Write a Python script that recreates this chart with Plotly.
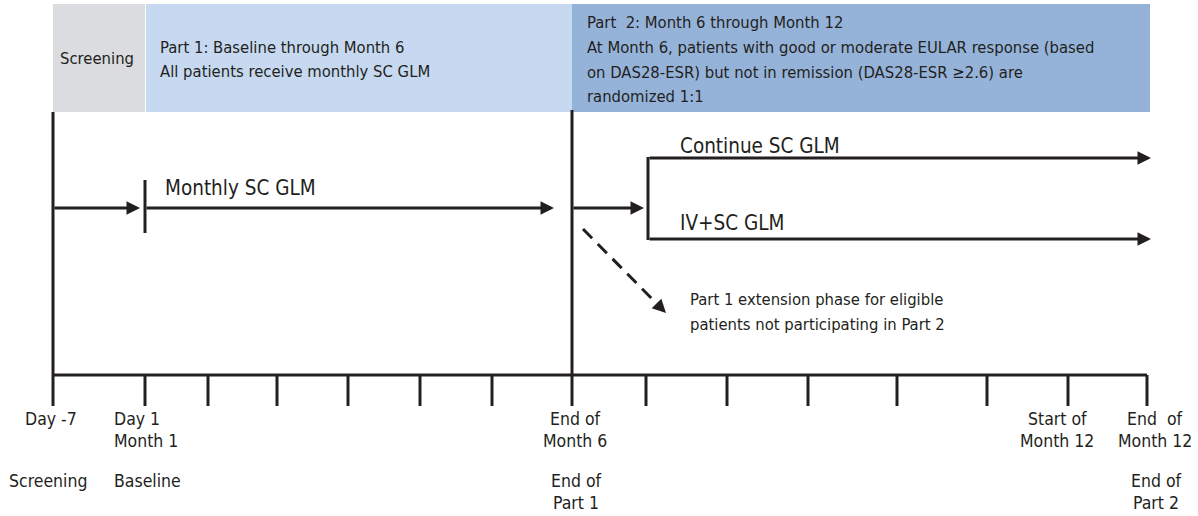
import plotly.graph_objects as go

# ---------------- data (diagram coordinates) ----------------
W, H = 1198, 516
FONT = "DejaVu Sans Condensed, Liberation Sans Narrow, sans-serif"
INK = "#231f20"

# timeline axis
axis_y = 375
tick_len = 31
tick_positions = [53, 145, 208, 277, 348, 420, 492, 572, 646, 727, 808, 897, 987, 1068, 1147]

# header phases
phase_names = ["Screening", "Part 1", "Part 2"]
phase_x0 = [53, 146, 572]
phase_x1 = [145, 572, 1150]
phase_colors = ["#dadcdf", "#c6d9f0", "#95b3d9"]
header_top, header_bottom = 4, 112

# header texts: (x, y, text)
header_texts = [
    (58, 58, "Screening"),
    (158, 47, "Part 1: Baseline through Month 6"),
    (158, 71, "All patients receive monthly SC GLM"),
    (585, 22, "Part  2: Month 6 through Month 12"),
    (585, 47, "At Month 6, patients with good or moderate EULAR response (based"),
    (585, 72, "on DAS28-ESR) but not in remission (DAS28-ESR \u22652.6) are"),
    (585, 96, "randomized 1:1"),
]

# phase boundary verticals (x, y_top, y_bottom)
boundaries = [(53, 112, 375), (572, 110, 375)]

# plain segments (x0, y0, x1, y1)
segments = [
    (145, 180, 145, 233),     # baseline marker
    (648, 157, 648, 240),     # randomisation branch
]

# solid arrows (x_tail, y_tail, x_tip, y_tip)
arrows = [
    (53, 208, 140, 208),
    (145, 208, 554, 208),
    (572, 208, 644, 208),
    (648, 158, 1151, 158),
    (648, 239, 1151, 239),
]

# dashed arrow (tail, tip)
dashed_arrow = (583, 229, 666, 313)

# arm labels: (x, y, text, size)
arm_labels = [
    (163, 188, "Monthly SC GLM", 20.5),
    (678, 146, "Continue SC GLM", 20.5),
    (678, 223, "IV+SC GLM", 20.5),
    (688, 299, "Part 1 extension phase for eligible", 16.5),
    (688, 324, "patients not participating in Part 2", 16.5),
]

# tick labels: (x, y, text, anchor)
tick_labels = [
    (51, 419, "Day -7", "center"),
    (112, 419, "Day 1", "left"),
    (112, 441, "Month 1", "left"),
    (48, 481, "Screening", "center"),
    (112, 481, "Baseline", "left"),
    (575, 419, "End of", "center"),
    (575, 441, "Month 6", "center"),
    (576, 481, "End of", "center"),
    (576, 503, "Part 1", "center"),
    (1057, 419, "Start of", "center"),
    (1057, 441, "Month 12", "center"),
    (1155, 419, "End  of", "center"),
    (1155, 441, "Month 12", "center"),
    (1156, 481, "End of", "center"),
    (1156, 503, "Part 2", "center"),
]

# ---------------- figure ----------------
fig = go.Figure()
fig.add_trace(go.Scatter(x=[0, W], y=[0, H], mode="markers",
                         marker=dict(opacity=0), hoverinfo="skip", showlegend=False))

shapes = []
for name, x0, x1, c in zip(phase_names, phase_x0, phase_x1, phase_colors):
    shapes.append(dict(type="rect", xref="x", yref="y", x0=x0, x1=x1,
                       y0=header_top, y1=header_bottom, fillcolor=c,
                       line=dict(width=0), layer="below"))

for x, y0, y1 in boundaries:
    shapes.append(dict(type="line", xref="x", yref="y", x0=x, x1=x, y0=y0, y1=y1,
                       line=dict(color=INK, width=3)))

shapes.append(dict(type="line", xref="x", yref="y", x0=tick_positions[0], x1=tick_positions[-1],
                   y0=axis_y, y1=axis_y, line=dict(color=INK, width=3)))
for t in tick_positions:
    shapes.append(dict(type="line", xref="x", yref="y", x0=t, x1=t,
                       y0=axis_y, y1=axis_y + tick_len, line=dict(color=INK, width=3)))

for x0, y0, x1, y1 in segments:
    shapes.append(dict(type="line", xref="x", yref="y", x0=x0, x1=x1, y0=y0, y1=y1,
                       line=dict(color=INK, width=3)))

# dashed body
dx0, dy0, dx1, dy1 = dashed_arrow
fx = dx0 + (dx1 - dx0) * 0.9
fy = dy0 + (dy1 - dy0) * 0.9
shapes.append(dict(type="line", xref="x", yref="y", x0=dx0, y0=dy0, x1=fx, y1=fy,
                   line=dict(color=INK, width=3, dash="13px,8px")))

annotations = []
for x0, y0, x1, y1 in arrows + [(fx, fy, dx1, dy1)]:
    annotations.append(dict(x=x1, y=y1, ax=x0, ay=y0, xref="x", yref="y",
                            axref="x", ayref="y", text="", showarrow=True,
                            arrowhead=2, arrowsize=0.9, arrowwidth=3,
                            arrowcolor=INK, standoff=0, startstandoff=0))

for x, y, t in header_texts:
    annotations.append(dict(x=x, y=y, xref="x", yref="y", text=t, showarrow=False,
                            xanchor="left", yanchor="middle",
                            font=dict(family=FONT, size=16.5, color=INK)))

for x, y, t, s in arm_labels:
    annotations.append(dict(x=x, y=y, xref="x", yref="y", text=t, showarrow=False,
                            xanchor="left", yanchor="middle",
                            font=dict(family=FONT, size=s, color=INK)))

for x, y, t, a in tick_labels:
    annotations.append(dict(x=x, y=y, xref="x", yref="y", text=t, showarrow=False,
                            xanchor=a, yanchor="middle",
                            font=dict(family=FONT, size=17.5, color=INK)))

fig.update_layout(
    width=W, height=H,
    margin=dict(l=0, r=0, t=0, b=0),
    paper_bgcolor="white", plot_bgcolor="white",
    xaxis=dict(range=[0, W], visible=False, fixedrange=True),
    yaxis=dict(range=[H, 0], visible=False, fixedrange=True),
    shapes=shapes, annotations=annotations, showlegend=False,
)

fig.write_html("out.html", config={"displayModeBar": False},
               post_script="document.body.style.margin='0';")
